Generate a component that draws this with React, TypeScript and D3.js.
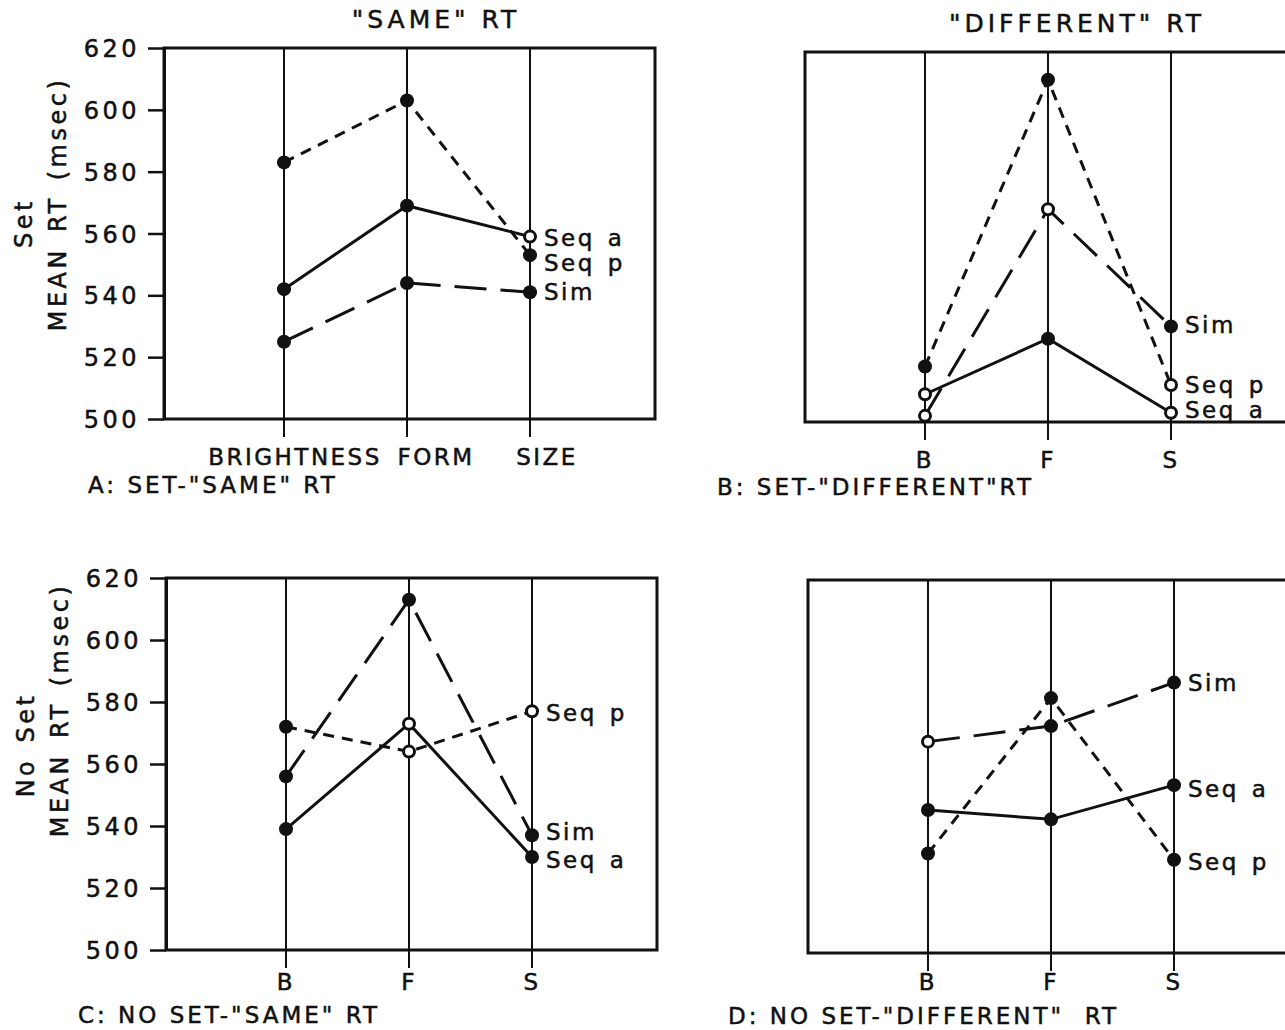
import React, { useRef, useEffect } from "react";
import * as d3 from "d3";

const categories = ["B", "F", "S"];
const yTicks = [500, 520, 540, 560, 580, 600, 620];
const seriesNames = ["Seq a", "Seq p", "Sim"];

// A: set, "same" RT
const aSeqA = [542, 569, 559];
const aSeqP = [583, 603, 553];
const aSim = [525, 544, 541];
// B: set, "different" RT
const bSeqA = [509, 527, 503];
const bSeqP = [518, 611, 512];
const bSim = [502, 569, 531];
// C: no set, "same" RT
const cSeqA = [539, 573, 530];
const cSeqP = [572, 564, 577];
const cSim = [556, 613, 537];
// D: no set, "different" RT
const dSeqA = [546, 543, 554];
const dSeqP = [532, 582, 530];
const dSim = [568, 573, 587];

// points drawn as open circles ("series:category")
const aOpen = ["Seq a:S"];
const bOpen = ["Seq a:B", "Sim:B", "Sim:F", "Seq p:S", "Seq a:S"];
const cOpen = ["Seq a:F", "Seq p:F", "Seq p:S"];
const dOpen = ["Sim:B"];

// where the series names sit (in msec) next to the S line
const aLabels = [558.7, 550.6, 541.3];
const bLabels = [504, 512, 531.5];
const cLabels = [529, 576.5, 538];
const dLabels = [553, 529.4, 587];

const ink = "#111";
const font = "'DejaVu Sans', sans-serif";
const dashes = [null, "11 8", "32 14"];

const panels = [
  {
    left: 164, top: 48, bottom: 419, axis: true,
    values: [aSeqA, aSeqP, aSim], open: aOpen, labels: aLabels,
    title: '"SAME" RT', caption: 'A: SET-"SAME" RT', captionX: 88, captionY: 493,
    catNames: ["BRIGHTNESS", "FORM", "SIZE"], catDx: [11, 29, 17], catY: 46,
    yLabel: [["Set", 32, 223], ["MEAN RT (msec)", 66, 204]],
  },
  {
    left: 805, top: 52, bottom: 422, axis: false,
    values: [bSeqA, bSeqP, bSim], open: bOpen, labels: bLabels,
    title: '"DIFFERENT" RT', caption: 'B: SET-"DIFFERENT"RT', captionX: 717, captionY: 495,
    catNames: categories, catDx: [0, 0, 0], catY: 46, yLabel: [],
  },
  {
    left: 166, top: 578, bottom: 950, axis: true,
    values: [cSeqA, cSeqP, cSim], open: cOpen, labels: cLabels,
    title: null, caption: 'C: NO SET-"SAME" RT', captionX: 78, captionY: 1023,
    catNames: categories, catDx: [0, 0, 0], catY: 40,
    yLabel: [["No Set", 34, 745], ["MEAN RT (msec)", 68, 710]],
  },
  {
    left: 808, top: 580, bottom: 953, axis: false,
    values: [dSeqA, dSeqP, dSim], open: dOpen, labels: dLabels,
    title: null, caption: 'D: NO SET-"DIFFERENT"  RT', captionX: 728, captionY: 1024,
    catNames: categories, catDx: [0, 0, 0], catY: 37, yLabel: [],
  },
];

function ink_text(sel, size, spacing) {
  return sel
    .attr("font-family", font)
    .attr("font-size", size)
    .attr("letter-spacing", spacing)
    .attr("fill", ink)
    .attr("stroke", ink)
    .attr("stroke-width", 0.5);
}

function drawPanel(svg, p) {
  const x = d3.scalePoint().domain(categories).range([p.left + 120, p.left + 366]);
  const y = d3.scaleLinear().domain([500, 620]).range([p.bottom, p.top]);
  const g = svg.append("g");

  g.append("rect")
    .attr("x", p.left)
    .attr("y", y(620))
    .attr("width", 491)
    .attr("height", y(500) - y(620))
    .attr("fill", "none")
    .attr("stroke", ink)
    .attr("stroke-width", 3);

  categories.forEach((c, i) => {
    g.append("line")
      .attr("x1", x(c)).attr("x2", x(c))
      .attr("y1", y(620)).attr("y2", y(500) + 18)
      .attr("stroke", ink)
      .attr("stroke-width", 2);
    ink_text(g.append("text"), 23, 2.5)
      .attr("x", x(c) + p.catDx[i])
      .attr("y", y(500) + p.catY)
      .attr("text-anchor", "middle")
      .text(p.catNames[i]);
  });

  if (p.axis) {
    const ax = g.append("g")
      .attr("transform", `translate(${p.left},0)`)
      .call(d3.axisLeft(y).tickValues(yTicks).tickSize(16).tickPadding(8).tickSizeOuter(0));
    ax.select(".domain").attr("stroke", ink).attr("stroke-width", 3);
    ax.selectAll(".tick line").attr("stroke", ink).attr("stroke-width", 2.5);
    ink_text(ax.selectAll(".tick text"), 24, 3.5).attr("dy", "0.36em");
  }

  p.yLabel.forEach(([txt, bx, cy]) => {
    ink_text(g.append("text"), 24, 3.5)
      .attr("transform", `translate(${bx},${cy}) rotate(-90)`)
      .attr("text-anchor", "middle")
      .attr("word-spacing", 4)
      .text(txt);
  });

  const line = d3.line()
    .x((_, i) => x(categories[i]))
    .y((d) => y(d));

  p.values.forEach((vals, si) => {
    g.append("path")
      .datum(vals)
      .attr("d", line)
      .attr("fill", "none")
      .attr("stroke", ink)
      .attr("stroke-width", 3)
      .attr("stroke-dasharray", dashes[si]);
  });

  p.values.forEach((vals, si) => {
    vals.forEach((v, i) => {
      const isOpen = p.open.includes(`${seriesNames[si]}:${categories[i]}`);
      g.append("circle")
        .attr("cx", x(categories[i]))
        .attr("cy", y(v))
        .attr("r", isOpen ? 5.5 : 7)
        .attr("fill", isOpen ? "#fff" : ink)
        .attr("stroke", ink)
        .attr("stroke-width", isOpen ? 3 : 0);
    });
    ink_text(g.append("text"), 23, 2.5)
      .attr("x", x("S") + 14)
      .attr("y", y(p.labels[si]))
      .attr("dy", "0.36em")
      .attr("word-spacing", 3)
      .text(seriesNames[si]);
  });

  if (p.title) {
    ink_text(g.append("text"), 25, 4)
      .attr("x", p.left + 272)
      .attr("y", y(620) - 20)
      .attr("text-anchor", "middle")
      .text(p.title);
  }

  ink_text(g.append("text"), 23, 3)
    .attr("x", p.captionX)
    .attr("y", p.captionY)
    .style("white-space", "pre")
    .text(p.caption);
}

const App = () => {
  const svgRef = useRef(null);

  useEffect(() => {
    const svg = d3.select(svgRef.current);
    svg.selectAll("*").remove();
    panels.forEach((p) => drawPanel(svg, p));
  }, []);

  return (
    <svg
      ref={svgRef}
      width={1285}
      height={1030}
      style={{ position: "absolute", left: 0, top: 0, background: "#fff" }}
    ></svg>
  );
};

export default App;
